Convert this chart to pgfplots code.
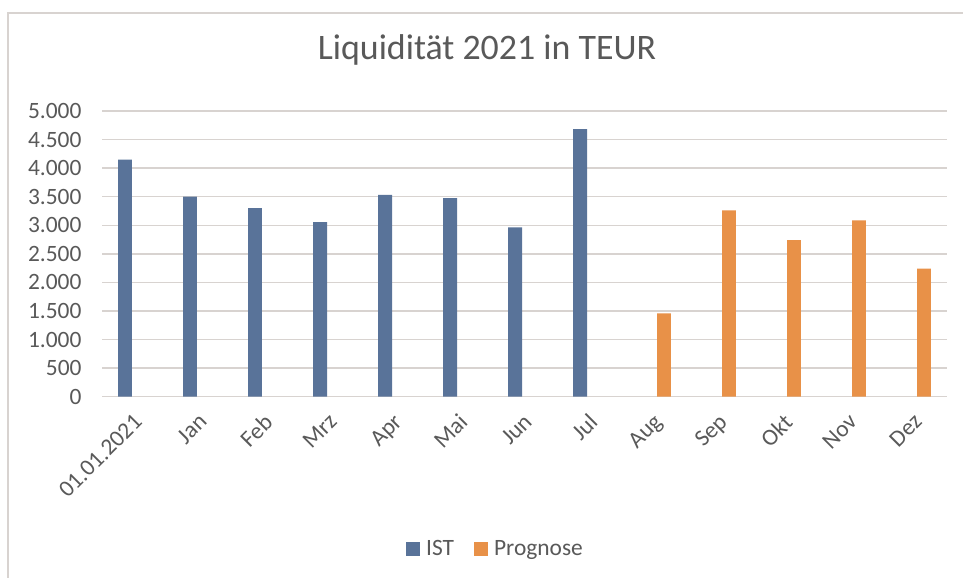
\documentclass[border=0pt]{standalone}
\usepackage{pgfplots}
\pgfplotsset{compat=1.18}
\usepackage{fontspec}
\setmainfont{Carlito}
\definecolor{istblue}{HTML}{597399}
\definecolor{progorange}{HTML}{E89148}
\definecolor{gridgray}{HTML}{D8D3D0}
\definecolor{txtgray}{HTML}{595959}
\begin{document}
\begin{tikzpicture}
\useasboundingbox (0bp,0bp) rectangle (963bp,578bp);
\draw[gridgray, line width=1.5bp] (8bp,0bp) -- (8bp,565bp) -- (963bp,565bp);
\node[text=txtgray, font=\fontsize{36}{42}\selectfont] at (487bp,528bp) {Liquidität 2021 in TEUR};
\begin{axis}[
  at={(102bp,181.3bp)}, anchor=south west,
  scale only axis, width=845bp, height=285.7bp,
  xmin=-0.5, xmax=12.5, ymin=0, ymax=5000,
  ytick={0,500,...,5000},
  xtick={0,...,12},
  xticklabels={01.01.2021,Jan,Feb,Mrz,Apr,Mai,Jun,Jul,Aug,Sep,Okt,Nov,Dez},
  axis line style={draw=none},
  tick style={draw=none},
  ymajorgrids, grid style={gridgray, line width=1.3bp},
  /pgf/number format/.cd, 1000 sep={.}, assume math mode=true, /pgfplots/.cd,
  tick label style={text=txtgray, font=\fontsize{23.5}{28}\selectfont},
  yticklabel style={xshift=-17bp},
  xticklabel style={xshift=-2bp, yshift=-11bp, rotate=45, anchor=north east},
  legend style={at={(0.4657,-0.533)}, anchor=center, draw=none, legend columns=2,
    font=\fontsize{23.5}{28}\selectfont, text=txtgray,
    /tikz/every odd column/.append style={column sep=4bp},
    /tikz/every even column/.append style={column sep=18bp}},
  legend image code/.code={\fill[#1] (0bp,-7bp) rectangle (14bp,7bp);},
]
\addplot[ybar, bar width=0.215, bar shift=-0.146, fill=istblue, draw=none]
  coordinates {(0,4148) (1,3500) (2,3302) (3,3057) (4,3530) (5,3477) (6,2965) (7,4685)};
\addlegendentry{IST}
\addplot[ybar, bar width=0.215, bar shift=0.146, fill=progorange, draw=none]
  coordinates {(8,1458) (9,3261) (10,2742) (11,3086) (12,2240)};
\addlegendentry{Prognose}
\end{axis}
\end{tikzpicture}
\end{document}
